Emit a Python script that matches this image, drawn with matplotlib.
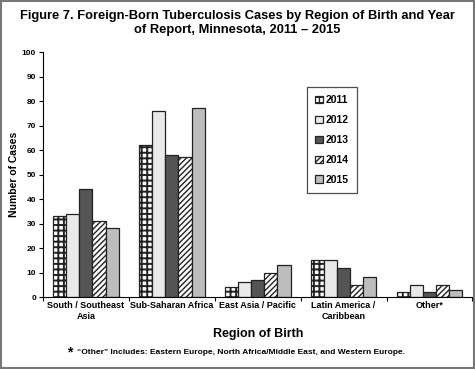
import numpy as np
import matplotlib
matplotlib.use("Agg")
import matplotlib.pyplot as plt
from matplotlib.patches import Rectangle

regions = ["South / Southeast\nAsia", "Sub-Saharan Africa", "East Asia / Pacific",
           "Latin America /\nCaribbean", "Other*"]
years = ["2011", "2012", "2013", "2014", "2015"]
cases_2011 = [33, 62, 4, 15, 2]
cases_2012 = [34, 76, 6, 15, 5]
cases_2013 = [44, 58, 7, 12, 2]
cases_2014 = [31, 57, 10, 5, 5]
cases_2015 = [28, 77, 13, 8, 3]
series = [cases_2011, cases_2012, cases_2013, cases_2014, cases_2015]

plt.rcParams['font.family'] = ['Liberation Sans', 'DejaVu Sans']

# bar styles per year
faces = ["white", "#e9e9e9", "#555555", "white", "#bdbdbd"]
hatches = ["+++", None, None, "//////", None]
hatch_lw = [1.4, 1.0, 1.0, 1.0, 1.0]

fig = plt.figure(figsize=(4.75, 3.69), dpi=100)
ax = fig.add_axes([0.0905, 0.195, 0.904, 0.664])

x = np.arange(len(regions))
w = 0.153
for i, vals in enumerate(series):
    with plt.rc_context({'hatch.linewidth': hatch_lw[i], 'hatch.color': '#222222'}):
        ax.bar(x + (i - 2) * w, vals, width=w, color=faces[i], hatch=hatches[i],
               edgecolor="#222222", linewidth=0.9, label=years[i], zorder=2)

ax.set_xlim(-0.5, 4.5)
ax.set_ylim(0, 100)
ax.set_yticks(range(0, 101, 10))
ax.tick_params(axis='y', labelsize=6, length=3, width=0.8, pad=2)
for lab in ax.get_yticklabels():
    lab.set_fontweight('bold')

ax.set_xticks(np.arange(-0.5, 4.6, 1))
ax.set_xticklabels([])
ax.tick_params(axis='x', which='major', length=3, width=0.8)
ax.set_xticks(x, minor=True)
ax.set_xticklabels(regions, minor=True, fontsize=6.5, fontweight='bold')
ax.tick_params(axis='x', which='minor', length=0, pad=3)

for s in ["top", "right"]:
    ax.spines[s].set_visible(False)
ax.spines["left"].set_linewidth(0.8)
ax.spines["bottom"].set_linewidth(0.8)

ax.set_ylabel("Number of Cases", fontsize=7.5, fontweight='bold', labelpad=2)

leg = ax.legend(loc="upper left", bbox_to_anchor=(0.615, 0.858),
                prop={'weight': 'bold', 'size': 7.5}, frameon=True, fancybox=False,
                edgecolor="#222222", handlelength=0.7, handleheight=0.7,
                handletextpad=0.3, labelspacing=0.95, borderpad=0.8,
                borderaxespad=0)
leg.get_frame().set_linewidth(0.9)

fig.suptitle("Figure 7. Foreign-Born Tuberculosis Cases by Region of Birth and Year\nof Report, Minnesota, 2011 \u2013 2015",
             fontsize=9.3, fontweight='bold', y=0.972, linespacing=1.15)
fig.text(0.543, 0.088, "Region of Birth", ha='center', fontsize=9, fontweight='bold')
fig.text(0.141, 0.035, "*", ha='left', fontsize=10, fontweight='bold')
fig.text(0.163, 0.04, "\u201cOther\u201d Includes: Eastern Europe, North Africa/Middle East, and Western Europe.",
         ha='left', fontsize=6, fontweight='bold')

# grey frame around the whole figure
fig.patches.append(Rectangle((0.002, 0.002), 0.996, 0.996, transform=fig.transFigure,
                             fill=False, edgecolor="#777777", linewidth=1.5))

fig.savefig("out.png", dpi=100)
